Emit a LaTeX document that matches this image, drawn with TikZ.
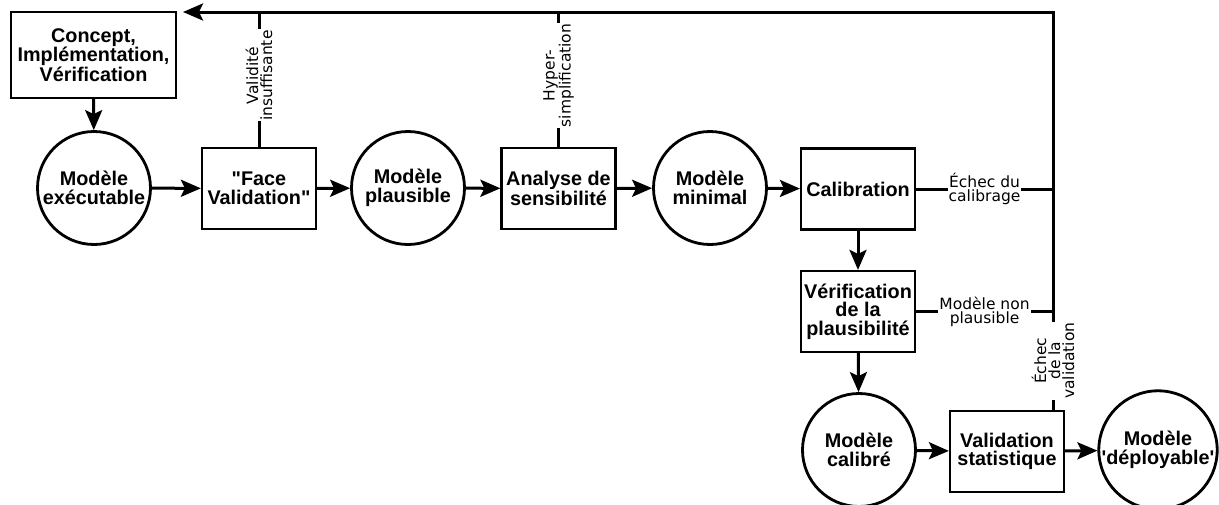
\documentclass[tikz,border=0pt]{standalone}
\usepackage{fontspec}
\setmainfont{Liberation Sans}
\newfontfamily\nodefont{Liberation Sans}[Ligatures=TeXOff]
\newfontfamily\labelfont{DejaVu Sans}
\usetikzlibrary{shapes,arrows.meta,positioning,calc}

\tikzset{
    stepbox/.style={draw, line width=2.2pt, rectangle, minimum width=114pt, minimum height=81pt,
        align=center, inner sep=1pt, font={\nodefont\bfseries\fontsize{19.8}{18.5}\selectfont}},
    modelstate/.style={draw, line width=2.8pt, circle, minimum size=113pt,
        align=center, inner sep=0pt, font={\nodefont\bfseries\fontsize{19.8}{18.5}\selectfont}},
    flow/.style={line width=3pt, -{Stealth[length=20pt,width=17pt,inset=4pt]}},
    feedback/.style={line width=3pt},
    hlabel/.style={fill=white, align=center, inner sep=1pt, font={\labelfont\fontsize{15.5}{14}\selectfont}},
    vlabel/.style={hlabel, rotate=90}
}

\begin{document}
\begin{tikzpicture}[x=1pt, y=-1pt]
    \useasboundingbox (0,0) rectangle (1219,504);

    % Main row
    \node[stepbox, minimum width=165pt, minimum height=86pt] (concept) at (93.5,55) {Concept,\\Implémentation,\\Vérification};
    \node[modelstate] (exec) at (94,188) {Modèle\\exécutable};
    \node[stepbox] (face) at (259,188.5) {"Face\\Validation"};
    \node[modelstate] (plaus) at (408,188) {Modèle\\plausible};
    \node[stepbox] (sens) at (558.5,188.5) {Analyse de\\sensibilité};
    \node[modelstate] (minimal) at (710,188) {Modèle\\minimal};
    \node[stepbox] (calib) at (858,189) {Calibration};

    % Right column and bottom row
    \node[stepbox] (verif) at (858,311.5) {Vérification\\de la\\plausibilité};
    \node[modelstate] (calibre) at (859,450) {Modèle\\calibré};
    \node[stepbox] (stat) at (1007,451.5) {Validation\\statistique};
    \node[modelstate] (deploy) at (1158,450) {Modèle\\'déployable'};

    % Feedback corners
    \coordinate (topR) at (1053,12);
    \coordinate (back) at (183,12);

    % Forward arrows
    \draw[flow] (concept) -- (exec);
    \draw[flow] (exec) -- (face);
    \draw[flow] (face) -- (plaus);
    \draw[flow] (plaus) -- (sens);
    \draw[flow] (sens) -- (minimal);
    \draw[flow] (minimal) -- (calib);
    \draw[flow] (calib) -- (verif);
    \draw[flow] (verif) -- (calibre);
    \draw[flow] (calibre) -- (stat);
    \draw[flow] (stat) -- (deploy);

    % Feedback loop
    \draw[flow] (stat.north -| topR) -- node[vlabel] {Échec\\de la\\validation} (verif.east -| topR)
        -- (calib.east -| topR) -- (topR) -- (back);
    \draw[feedback] (face.north) -- node[vlabel, xshift=4pt] {Validité\\insuffisante} (face.north |- topR);
    \draw[feedback] (sens.north) -- node[vlabel, xshift=4pt] {Hyper-\\simplification} (sens.north |- topR);
    \draw[feedback] (calib.east) -- node[hlabel] {Échec du\\calibrage} (calib.east -| topR);
    \draw[feedback] (verif.east) -- node[hlabel] {Modèle non\\plausible} (verif.east -| topR);

\end{tikzpicture}
\end{document}
